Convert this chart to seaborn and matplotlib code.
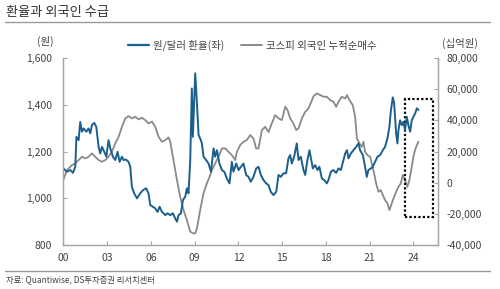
import matplotlib.pyplot as plt
import matplotlib.patches as mpatches
from matplotlib.lines import Line2D
import pandas as pd
import seaborn as sns

# 원/달러 환율 (decimal year, won)
fx_year = [
    2000.0, 2000.25, 2000.48, 2000.66, 2000.82, 2000.9, 2001.05, 2001.16, 2001.28, 2001.39,
    2001.58, 2001.73, 2001.85, 2001.96, 2002.12, 2002.26, 2002.42, 2002.53, 2002.65, 2002.81,
    2002.95, 2003.1, 2003.22, 2003.4, 2003.56, 2003.72, 2003.86, 2004.02, 2004.13, 2004.3,
    2004.47, 2004.59, 2004.7, 2004.86, 2005.05, 2005.27, 2005.46, 2005.68, 2005.84, 2005.96,
    2006.14, 2006.3, 2006.46, 2006.6, 2006.76, 2006.99, 2007.14, 2007.33, 2007.51, 2007.67,
    2007.79, 2007.9, 2008.06, 2008.2, 2008.36, 2008.47, 2008.58, 2008.7, 2008.81, 2008.88,
    2009.04, 2009.16, 2009.27, 2009.38, 2009.5, 2009.61, 2009.79, 2009.95, 2010.12, 2010.3,
    2010.41, 2010.53, 2010.7, 2010.87, 2011.03, 2011.21, 2011.39, 2011.55, 2011.66, 2011.85,
    2012.01, 2012.17, 2012.35, 2012.53, 2012.69, 2012.85, 2013.03, 2013.22, 2013.38, 2013.54,
    2013.72, 2013.9, 2014.06, 2014.22, 2014.4, 2014.59, 2014.75, 2014.91, 2015.09, 2015.27,
    2015.43, 2015.55, 2015.66, 2015.82, 2016.0, 2016.12, 2016.28, 2016.46, 2016.58, 2016.73,
    2016.87, 2017.1, 2017.26, 2017.42, 2017.55, 2017.72, 2017.88, 2018.06, 2018.17, 2018.34,
    2018.51, 2018.7, 2018.86, 2019.02, 2019.2, 2019.32, 2019.44, 2019.55, 2019.71, 2019.88,
    2020.07, 2020.23, 2020.34, 2020.53, 2020.68, 2020.8, 2020.91, 2021.08, 2021.21, 2021.37,
    2021.53, 2021.71, 2021.9, 2022.05, 2022.21, 2022.35, 2022.44, 2022.58, 2022.67, 2022.81,
    2022.9, 2022.97, 2023.08, 2023.2, 2023.31, 2023.42, 2023.54, 2023.65, 2023.77, 2023.88,
    2024.0, 2024.11, 2024.23, 2024.34,
]
fx_rate = [
    1128, 1114, 1121, 1109, 1135, 1263, 1249, 1327, 1285, 1299,
    1285, 1299, 1278, 1313, 1323, 1306, 1220, 1192, 1220, 1199,
    1178, 1249, 1214, 1178, 1164, 1199, 1156, 1178, 1164, 1166,
    1156, 1135, 1049, 1021, 1000, 1021, 1035, 1043, 1021, 971,
    964, 957, 942, 964, 942, 928, 936, 928, 936, 914,
    900, 928, 936, 993, 1007, 1043, 1021, 1164, 1470, 1263,
    1535, 1406, 1271, 1256, 1235, 1178, 1164, 1149, 1114, 1214,
    1178, 1206, 1149, 1121, 1114, 1085, 1064, 1156, 1114, 1149,
    1121, 1135, 1149, 1100, 1092, 1071, 1092, 1128, 1135, 1100,
    1078, 1064, 1057, 1028, 1014, 1028, 1100, 1092, 1107, 1107,
    1171, 1185, 1149, 1178, 1235, 1164, 1178, 1121, 1100, 1164,
    1206, 1128, 1142, 1121, 1135, 1085, 1078, 1064, 1078, 1114,
    1121, 1109, 1128, 1121, 1164, 1192, 1206, 1171, 1192, 1206,
    1220, 1235, 1206, 1185, 1135, 1092, 1121, 1128, 1135, 1156,
    1178, 1185, 1206, 1220, 1256, 1306, 1370, 1432, 1409, 1278,
    1235, 1292, 1334, 1313, 1327, 1292, 1349, 1313, 1285, 1334,
    1349, 1363, 1385, 1378,
]

# 코스피 외국인 누적순매수 (decimal year, 십억원)
flow_year = [
    2000.0, 2000.25, 2000.6, 2000.82, 2001.05, 2001.28, 2001.5, 2001.73, 2001.96, 2002.19,
    2002.42, 2002.65, 2002.88, 2003.1, 2003.33, 2003.56, 2003.79, 2004.02, 2004.25, 2004.47,
    2004.7, 2004.93, 2005.16, 2005.39, 2005.62, 2005.84, 2006.08, 2006.3, 2006.53, 2006.76,
    2006.99, 2007.21, 2007.33, 2007.55, 2007.79, 2008.01, 2008.24, 2008.47, 2008.7, 2008.92,
    2009.04, 2009.16, 2009.38, 2009.61, 2009.84, 2010.07, 2010.18, 2010.41, 2010.64, 2010.87,
    2011.1, 2011.32, 2011.55, 2011.78, 2011.9, 2012.12, 2012.35, 2012.58, 2012.81, 2013.03,
    2013.22, 2013.38, 2013.61, 2013.84, 2014.06, 2014.29, 2014.52, 2014.75, 2014.98, 2015.21,
    2015.37, 2015.55, 2015.77, 2015.96, 2016.12, 2016.35, 2016.58, 2016.8, 2017.0, 2017.15,
    2017.38, 2017.6, 2017.83, 2018.06, 2018.29, 2018.51, 2018.7, 2018.86, 2019.09, 2019.32,
    2019.44, 2019.61, 2019.84, 2020.0, 2020.12, 2020.3, 2020.46, 2020.57, 2020.68, 2020.84,
    2021.03, 2021.14, 2021.3, 2021.44, 2021.6, 2021.76, 2021.9, 2022.05, 2022.21, 2022.35,
    2022.51, 2022.67, 2022.81, 2022.97, 2023.13, 2023.26, 2023.42, 2023.58, 2023.72, 2023.88,
    2023.99, 2024.11, 2024.23, 2024.34,
]
flow_cum = [
    1700, 8130, 11340, 12400, 14550, 16660, 15600, 16660, 18850, 16660,
    14550, 13450, 14550, 16660, 19870, 25260, 29500, 35920, 41300, 42780,
    41300, 42350, 40660, 41700, 40200, 38100, 39200, 35920, 29500, 26300,
    27380, 29100, 26300, 14550, 1713, -9000, -17540, -23960, -31460, -32500,
    -32500, -29300, -17540, -6800, -400, 4920, 8130, 12400, 16660, 22050,
    22050, 19870, 17760, 14550, 19870, 24170, 26300, 27380, 30590, 28400,
    22000, 22050, 33800, 35920, 32500, 38100, 43400, 41300, 40200, 48750,
    46600, 41300, 38100, 33800, 34900, 41300, 45540, 47700, 52000, 55600,
    57350, 56300, 55200, 55200, 53050, 52000, 48750, 52000, 55200, 54100,
    56300, 53050, 49800, 42300, 28470, 25260, 23000, 26300, 19870, 17760,
    16660, 12400, 5980, -400, -5800, -4720, -7900, -11100, -13240, -17540,
    -13240, -9000, -5800, -2600, -400, 4920, 1700, -2600, 1700, 10250,
    16660, 20970, 24170, 26300,
]

x_ticks = [2000, 2003, 2006, 2009, 2012, 2015, 2018, 2021, 2024]
x_labels = ["00", "03", "06", "09", "12", "15", "18", "21", "24"]
left_ticks = [800, 1000, 1200, 1400, 1600]
right_ticks = [-40000, -20000, 0, 20000, 40000, 60000, 80000]

# dotted highlight box (x in years, y on right axis)
box_x0, box_x1 = 2023.42, 2025.34
box_y0, box_y1 = -22000, 54000

BLUE = "#1b5f8c"
GRAY = "#8a8a8a"
SPINE = "#a6a6a6"
TEXT = "#404040"

sns.set_theme(style="white")
plt.rcParams["font.family"] = ["Noto Sans CJK KR", "DejaVu Sans"]

fx_df = pd.DataFrame({"year": fx_year, "rate": fx_rate})
flow_df = pd.DataFrame({"year": flow_year, "cum": flow_cum})

fig = plt.figure(figsize=(5.0, 2.89), dpi=100)
ax = fig.add_axes([0.1266, 0.152, 0.75, 0.647])
ax2 = ax.twinx()

sns.lineplot(data=flow_df, x="year", y="cum", ax=ax2, color=GRAY, linewidth=1.3)
sns.lineplot(data=fx_df, x="year", y="rate", ax=ax, color=BLUE, linewidth=1.4)
ax.set_zorder(ax2.get_zorder() + 1)
ax.patch.set_visible(False)

ax.set_xlim(2000, 2025.7)
ax.set_ylim(800, 1600)
ax2.set_ylim(-40000, 80000)
ax.set_xticks(x_ticks)
ax.set_xticklabels(x_labels)
ax.set_yticks(left_ticks)
ax.set_yticklabels([f"{v:,}" for v in left_ticks])
ax2.set_yticks(right_ticks)
ax2.set_yticklabels([f"{v:,}" for v in right_ticks])
ax.set_xlabel("")
ax.set_ylabel("")
ax2.set_ylabel("")

for a in (ax, ax2):
    for side, sp in a.spines.items():
        sp.set_color(SPINE)
        sp.set_linewidth(0.9)
        sp.set_visible(side != "top")
ax.tick_params(axis="x", direction="in", length=3, width=0.8, color=SPINE,
               labelsize=7.5, labelcolor=TEXT, pad=6, bottom=True)
ax.tick_params(axis="y", direction="in", length=3, width=0.8, color=SPINE,
               labelsize=7.5, labelcolor=TEXT, pad=8, left=True)
ax2.tick_params(axis="y", direction="in", length=3, width=0.8, color=SPINE,
                labelsize=7.5, labelcolor=TEXT, pad=6, right=True)

ax2.add_patch(mpatches.Rectangle((box_x0, box_y0), box_x1 - box_x0, box_y1 - box_y0,
                                 fill=False, edgecolor="black", linestyle=(0, (1, 1)),
                                 linewidth=1.6, zorder=5, clip_on=False))

handles = [Line2D([], [], color=BLUE, linewidth=1.6),
           Line2D([], [], color=GRAY, linewidth=1.4)]
fig.legend(handles, ["원/달러 환율(좌)", "코스피 외국인 누적순매수"], ncol=2,
           loc="center", bbox_to_anchor=(0.505, 0.843), frameon=False,
           fontsize=7.5, handlelength=2.0, handletextpad=0.4, columnspacing=1.6,
           labelcolor=TEXT)

fig.text(0.09, 0.855, "(원)", ha="center", va="center", fontsize=7.5, color=TEXT)
fig.text(0.92, 0.851, "(십억원)", ha="center", va="center", fontsize=7.5, color=TEXT)

fig.text(0.012, 0.958, "환율과 외국인 수급", ha="left", va="center", fontsize=9.5, color="#333333")
fig.add_artist(Line2D([0.01, 0.98], [0.923, 0.923], color="#9a9a9a", linewidth=1.0))
fig.add_artist(Line2D([0.01, 0.98], [0.063, 0.063], color="#9a9a9a", linewidth=1.0))
fig.text(0.012, 0.031, "자료: Quantiwise, DS투자증권 리서치센터", ha="left", va="center",
         fontsize=6, color=TEXT)

fig.savefig("out.png", dpi=100)
